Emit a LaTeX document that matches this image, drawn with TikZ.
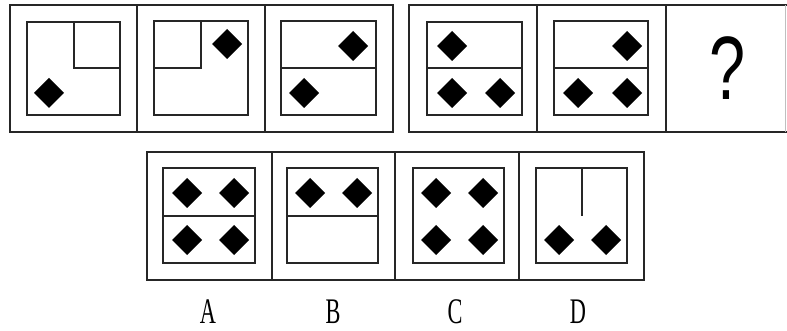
\documentclass[tikz,border=0pt]{standalone}
\usepackage{fontspec}
\setmainfont{Liberation Serif}
\newfontfamily\qfont{Liberation Sans}
\tikzset{
  frame/.style={line width=2pt, draw=black!85},
  inner/.style={line width=2pt, draw=black!85},
  lab/.style={font=\fontsize{36}{36}\selectfont, inner sep=0pt},
}
\newcommand\dmd[2]{\fill[black] (#1,#2) +(-15,0) -- +(0,-15) -- +(15,0) -- +(0,15) -- cycle;}
\newcommand\narrow[1]{\scalebox{0.62}[1]{#1}}
\begin{document}
\begin{tikzpicture}[x=1pt,y=-1pt]
\useasboundingbox (0,0) rectangle (787,331);
% ---- top group 1
\draw[frame] (10,5) rectangle (393,132);
\draw[frame] (137,5) -- (137,132);
\draw[frame] (265,5) -- (265,132);
% cell 1
\draw[inner] (27,22) rectangle (120,115);
\draw[inner] (74,22) -- (74,68) -- (120,68);
\dmd{49}{93}
% cell 2
\draw[inner] (154,21) rectangle (248,115);
\draw[inner] (154,68) -- (201,68) -- (201,21);
\dmd{227}{44}
% cell 3
\draw[inner] (281,21) rectangle (376,115);
\draw[inner] (281,68) -- (376,68);
\dmd{353}{46}
\dmd{304}{93}
% ---- top group 2
\draw[frame] (787,5) -- (409,5) -- (409,132) -- (787,132);
\draw[line width=1pt, draw=black!25] (785,5) -- (785,132);
\draw[frame] (537,5) -- (537,132);
\draw[frame] (666,5) -- (666,132);
% cell 4
\draw[inner] (427,22) rectangle (522,115);
\draw[inner] (427,68) -- (522,68);
\dmd{452}{46}
\dmd{452}{93}
\dmd{500}{93}
% cell 5
\draw[inner] (554,21) rectangle (648,115);
\draw[inner] (554,68) -- (648,68);
\dmd{627}{46}
\dmd{578}{93}
\dmd{627}{93}
% cell 6
\node[font=\qfont\fontsize{90}{90}\selectfont, inner sep=0pt] (q) at (728,68) {\scalebox{0.72}[1]{?}};
% ---- bottom options
\draw[frame] (147,152) rectangle (644,280);
\draw[frame] (272,152) -- (272,280);
\draw[frame] (395,152) -- (395,280);
\draw[frame] (519,152) -- (519,280);
% A
\draw[inner] (163,168) rectangle (255,263);
\draw[inner] (163,216) -- (255,216);
\dmd{187}{193}\dmd{234}{193}\dmd{187}{240}\dmd{234}{240}
% B
\draw[inner] (287,168) rectangle (378,263);
\draw[inner] (287,216) -- (378,216);
\dmd{310}{193}\dmd{357}{193}
% C
\draw[inner] (413,168) rectangle (504,263);
\dmd{436}{193}\dmd{483}{193}\dmd{436}{240}\dmd{483}{240}
% D
\draw[inner] (536,168) rectangle (627,263);
\draw[inner] (582,168) -- (582,216);
\dmd{559}{240}\dmd{606}{240}
% labels
\node[lab] (la) at (208,312) {\narrow{A}};
\node[lab] (lb) at (333,312) {\narrow{B}};
\node[lab] (lc) at (455,312) {\narrow{C}};
\node[lab] (ld) at (578,312) {\narrow{D}};
\end{tikzpicture}
\end{document}
